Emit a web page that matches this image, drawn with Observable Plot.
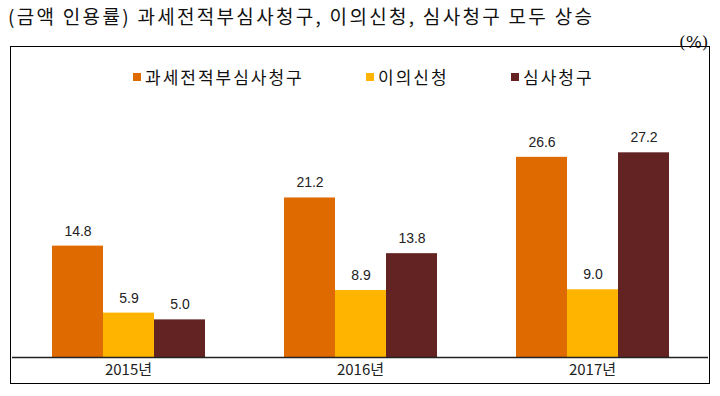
<!DOCTYPE html>
<html><head><meta charset="utf-8">
<script src="https://cdn.jsdelivr.net/npm/d3@7"></script>
<script src="https://cdn.jsdelivr.net/npm/@observablehq/plot@0.6"></script>
<style>
body{margin:0;background:#fff;width:720px;height:396px;position:relative;overflow:hidden;font-family:"Noto Sans CJK KR","Noto Sans",sans-serif;color:#111;}
#title{position:absolute;left:8px;top:2px;font-size:19px;white-space:nowrap;letter-spacing:2.3px;}
#unit{position:absolute;left:679px;top:32px;font-size:17px;font-family:"DejaVu Serif",serif;}
#box{position:absolute;left:10px;top:46px;width:700px;height:338px;border:1.5px solid #000;box-sizing:border-box;pointer-events:none;}
#chart{position:absolute;left:0;top:47px;}
.lg{position:absolute;top:64px;font-size:17px;white-space:nowrap;letter-spacing:2px;display:flex;align-items:center;}
.sw{display:inline-block;width:8px;height:8px;margin-right:4px;}
</style></head>
<body>
<div id="title"></div>
<div id="unit">(%)</div>
<div id="chart"></div>
<div id="box"></div>
<div id="legend"></div>
<script>
const title = "(금액 인용률) 과세전적부심사청구, 이의신청, 심사청구 모두 상승";
const years = ["2015년", "2016년", "2017년"];
const series = ["과세전적부심사청구", "이의신청", "심사청구"];
const colors = ["#DE6A00", "#FFB400", "#632322"];
const vPre = [14.8, 21.2, 26.6];
const vObj = [5.9, 8.9, 9.0];
const vRev = [5.0, 13.8, 27.2];

document.getElementById("title").textContent = title;

const cols = [vPre, vObj, vRev];
const data = years.flatMap((y, i) => series.map((s, j) => ({year: y, series: s, value: cols[j][i]})));

const legendLeft = [133, 366, 511];
const lg = document.getElementById("legend");
series.forEach((s, j) => {
  const d = document.createElement("div");
  d.className = "lg";
  d.style.left = legendLeft[j] + "px";
  d.innerHTML = `<span class="sw" style="background:${colors[j]}"></span><span>${s}</span>`;
  lg.appendChild(d);
});

const chart = Plot.plot({
  width: 720, height: 349,
  marginLeft: 11, marginRight: 11, marginTop: 9, marginBottom: 39,
  style: {fontFamily: "'Liberation Sans','Noto Sans CJK KR',sans-serif", fontSize: "14px", color: "#222", background: "transparent"},
  fx: {domain: years, padding: 0},
  x: {domain: series, paddingInner: 0, paddingOuter: 0.75, axis: null},
  y: {domain: [0, 40], axis: null},
  color: {domain: series, range: colors},
  marks: [
    Plot.barY(data, {fx: "year", x: "series", y: "value", fill: "series", inset: 0}),
    Plot.text(data, {fx: "year", x: "series", y: "value", text: d => d.value.toFixed(1), dy: -15, fontSize: 14, fill: "#222", style: "letter-spacing:0.5px"}),
    Plot.ruleY([0], {stroke: "#222", strokeWidth: 1.5}),
    Plot.axisFx({anchor: "bottom", tickSize: 0, tickPadding: 7, label: null, fontSize: 15, fontFamily: "'Noto Sans CJK KR',sans-serif"})
  ]
});
document.getElementById("chart").appendChild(chart);
</script>
</body></html>
